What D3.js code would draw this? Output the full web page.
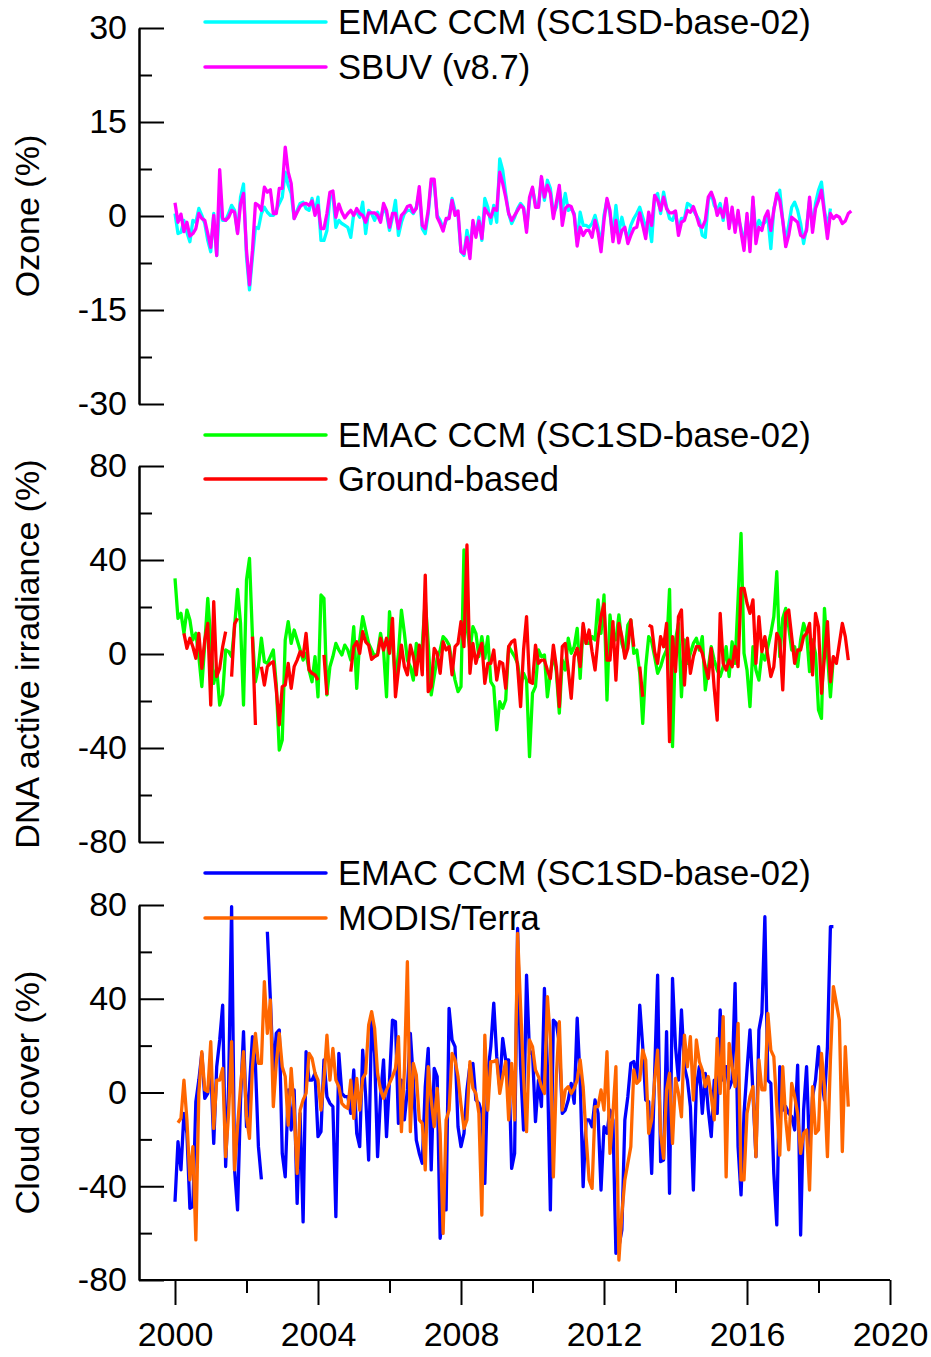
<!DOCTYPE html>
<html>
<head>
<meta charset="utf-8">
<script src="https://cdn.jsdelivr.net/npm/d3@7"></script>
<style>
  body { margin: 0; background: #fff; }
  svg text { font-family: "Liberation Sans", Arial, sans-serif; }
</style>
</head>
<body>
<svg id="chart"></svg>
<script>
// monthly anomalies, Jan 2000 onward (null = no data)
const startYear = 2000;

const ozoneEmac = [
  0.4,-2.8,-2.6,-0.7,-2.6,-4.1,-0.7,-1,1.2,0.1,-1.2,-3.9,
  -5.7,0.4,-6.3,2.5,-0.7,-0.7,0.4,1.7,0.9,-2.6,3,5.1,
  -6.5,-11.8,-6.5,-1.8,-2,0.4,1.4,0.6,0.1,0.1,0.9,2,
  3,7,4.9,3.6,-0.4,0.9,2,2.2,1.2,0.9,2.8,0.6,
  3,-3.9,-3.9,-2.3,3,3.3,-1.8,-0.7,-1.2,-1.5,-1.8,-3.4,
  0.4,0.6,-0.2,2.2,-2.8,0.9,0.4,-0.7,0.6,-0.7,1.4,0.4,
  -2.3,-0.2,2.5,-3.1,-1,0.4,0.9,0.9,0.4,1.4,3.8,-2,
  -2.8,0.4,5.4,5.2,0.1,-0.7,-2,-0.7,-0.2,2.8,0.9,0.1,
  -5.7,-6.3,-2.3,-4.9,-1.2,-2.8,-0.2,-3.9,2.8,1.4,-1.2,1.7,
  -1,9.1,7.3,3.6,0.4,
  -1.2,-0.2,1.2,2,1.4,-2,2.5,4.4,2,1.4,6,2.5,
  5.7,4.4,0.4,1.4,4.4,0.9,3.6,0.9,1.2,0.4,-4.1,0.6,
  -1.5,-1.5,-1.8,-1.2,0.1,-1.8,-4.9,0.1,2.5,0.4,-3.4,1.7,
  -2.6,-0.2,-2.3,-3.6,-1.5,-0.4,0.4,1.4,-0.2,-1.8,-1,-4.1,
  3,3.6,0.4,3.8,1.4,-0.4,-0.7,0.6,-2.3,-0.4,-0.4,2,
  1.7,0.9,0.1,-0.7,-3.1,-3.4,2.5,3.6,1.7,0.9,2,-0.7,
  2.5,-1.5,0.6,-1.8,-0.2,-2,-4.4,-0.2,-4.4,2.5,-2.8,-0.7,
  -1.5,-1,-0.2,-5.2,1.2,3,4.1,-0.7,-4.1,-1.5,1.4,2.2,
  0.9,-1.2,-4.4,-1.8,2.5,-1.8,2,4.1,5.4,0.9,-1.8,1.2
];

const ozoneSbuv = [
  2.1,-1,0.3,-2.5,-1,-3.2,-2.8,-2,0.4,-0.4,-0.7,-2.8,
  -5,0.1,-6.3,7.4,-0.4,-0.7,-0.2,0.9,0.6,-2.8,2,3.6,
  -5.5,-11,-5.5,2,1.7,0.9,4.6,3.8,4.2,0.4,0.4,4.4,
  4.4,11,7,5.2,-0.4,0.6,1.5,1.9,2,1.7,2.4,0.1,
  1.7,-2,-2,0.4,3.8,4,-0.2,1.9,0.6,-0.3,0.4,0.9,
  0.1,1.2,0.4,0.1,-1,0.5,0.5,0.5,0.1,-1,2,0.9,
  -1.8,0.4,0.4,-2,0.1,0.6,1.5,1.7,0.6,1.2,4.7,-1.5,
  -2,0.9,5.9,5.9,-0.2,-1.2,-2.4,-0.4,-0.4,2.5,0.1,0.8,
  -5.7,-6,-3.4,-6.8,-0.7,-3.4,-0.8,-3.6,1.2,0.4,-0.2,1.2,
  0.9,7,5.2,3,0.4,
  -0.7,0.1,0.9,1.7,1.2,-2.6,3,4.6,1.4,1.4,6.3,3,
  4.9,3.6,-0.4,2.2,4.9,-1.5,1.2,1.7,1.5,0.1,-4.8,-1.8,
  -3.1,-2.3,-2.3,-3.4,-0.7,-2.6,-5.7,-0.7,2.8,0.9,-4.1,-0.7,
  -4.3,-2.3,-1.8,-4.4,-3.1,-2,-1.8,0.5,-1.5,-3.6,0.6,-1.5,
  3.3,2.5,0.9,3,1.2,0.5,0.5,0.8,-3.1,-1,-0.7,0.9,
  0.6,1.5,0.1,-1.5,-1.8,-0.7,3,3.8,2.5,0.1,1.2,-0.2,
  2.8,-2,1.4,-2.6,0.9,-2.6,-5.5,0.4,-5.7,3,-4.4,-1.8,
  -2.3,-0.2,0.8,-2.3,0.9,3.6,2.5,-0.7,-4.9,-3.1,-0.2,-0.6,
  -1,-3.1,-3.4,-2.3,3,-2.6,1.2,2.5,4.1,0.4,-3.6,0.4,
  -0.4,0.1,-0.2,-1.2,-0.8,0.4,0.8
];

const dnaEmac = [
  32.2,15.2,17.3,8.8,18.7,14.5,6,8.8,-1.1,-13.9,4.5,23.7,
  6,-12.5,-6.1,-21.7,-17.4,1.7,1,-1.1,11.6,27.5,13,-21.7,
  31.5,40.7,7.4,-11.8,-5.4,6.7,-3.3,-4,-1.1,1.7,-13.2,-40.9,
  -36.6,6,13.8,4.5,10.2,6,1.7,-2.6,0.3,-6.8,-11.8,-1.1,
  -18.2,25.1,23.7,-17.4,-5.4,-1.1,4.5,1.7,-0.4,3.8,1.7,-2.6,
  11.6,-14.6,6,15.9,10.2,4.5,1.7,-1.1,0.3,8.8,1.7,-18.2,
  18,4.5,-11.1,0.3,18.7,8.8,-2.6,-5.4,-11.1,4.5,1.7,3.8,
  23,4.5,-17.4,-9.6,-1.8,1.7,7.4,6,3.8,-4,-11.1,-16,
  -13.9,44.3,11.6,1.7,11.6,8.8,-1.1,7.4,-1.8,7.4,-11.8,-13.9,
  -32.3,-20.3,-23.1,-19.6,3.1,
  1,-1.1,-4,-13.9,-8.2,-11.1,-43.7,-16.7,-13.9,1.7,-1.1,-0.4,
  -18.2,-8.2,0.3,-7.5,-25.2,-2.6,-6.8,6.7,0.3,3.1,10.9,-10.4,
  11.6,4.5,4.5,7.4,6,23,8.8,25.1,-19.6,16.6,6,6,
  16.6,4.5,0.3,12.3,14.5,0.3,1.7,-8.2,-29.5,-5.4,7.4,5.2,
  -1.1,-8.2,-5.4,-1.1,1.7,27.5,-39.4,6,13,-18.2,6,-4,
  0.3,4.5,6.7,1.7,7.4,-15.3,-6.1,3.1,-2.6,-6.8,-9.6,-5.4,
  3.1,-9.6,5.2,-4,23,51.3,0.3,-6.8,-22.4,3.1,-6.8,-11.1,
  0.3,-2.6,3.1,8.8,15.9,35,-1.1,15.2,19.4,11.6,1.7,3.1,
  -5.4,6,13,8.8,-7.5,6,0.3,-23.8,-27.4,19.4,0.3,-18.2,
  -1.1
];

const dnaGround = [
  null,null,null,8.8,2.4,6.7,3.1,-1.8,8.8,-6.1,6,13,
  -21.7,22.3,-9.6,-6.1,3.1,9.5,null,-9.6,12.8,15.2,null,null,
  null,null,7.4,-30.2,null,-5.4,-13.2,-5.4,-4,-3.3,-15.3,-30.2,
  -13.9,-13.2,-4,-14.6,-5.4,-2.6,1,-1.1,8.8,-6.8,-8.2,-8.9,
  -11.1,null,-0.4,-17.4,null,null,null,null,null,null,null,-7.5,
  3.1,5.2,0.3,9.5,5.2,3.8,-2.3,-1.1,-0.4,6.7,1.7,6.7,
  0.3,15.2,-18.2,-6.8,3.8,-5.4,-8.9,3.8,-1.1,-8.9,3.8,-8.9,
  33.6,-16,-13.9,2.4,0.3,-8.2,5.2,1.7,3.1,-8.9,3.1,4.5,
  13.8,3.1,46.4,-8.2,4.5,-4,1,4.5,-12.5,-4,-4,1.7,
  -11.1,-3.3,-4,-14.6,3.1,
  5.2,6,-5.4,-22.4,1.7,15.9,-11.8,-12.5,3.8,-4,-2.6,-2.6,
  -6.8,-10.4,3.8,-5.4,-22.4,3.1,4.5,-6.8,-18.9,-1.1,2.4,-5.4,
  13,4.5,10.2,1,-6.8,6.7,15.9,21.3,-2.6,-2.6,13.8,-11.1,
  13,7.4,-1.8,2.4,14.5,3.1,null,-5.4,-18.2,null,12.3,11.6,
  1,-4,7.4,3.1,13,-37.3,7.4,-7.5,15.9,18.7,-13.2,6.7,
  -8.2,-1.1,3.1,3.1,0.3,-5.4,-10.4,2.4,-14.6,-28.1,17.3,-4,
  -6.8,-2.6,-5.4,3.1,-5.4,27.9,27.9,21.6,17.3,23,-4,15.9,
  1,7.4,-1.1,-9.6,-5.4,8.8,6,-15.3,17.3,18.7,7.4,-4,
  1.7,1.7,7.4,8.8,13,-8.9,17.3,11.6,-16.7,-1.1,13.8,-11.8,
  -1.1,-4,4.5,13,7.4,-2.6
];

const cloudEmac = [
  -46.6,-21,-33,-8.9,-17.4,-49.4,-48.7,-3.9,5.3,16.7,-2.5,-0.4,
  11,-21.7,11,22.4,37.3,-31.6,2.5,79.3,-33,-50.1,-3.2,26,
  -14.6,2.5,23.8,11.7,-23.1,-37.1,null,68.6,40.2,8.2,25.2,26.7,
  -26,-36,1.1,-16,1.1,-47.3,-8.9,-55.2,17.4,5.3,5.3,8.2,
  -18.8,-16.7,13.9,-1.8,-4.6,-6,-53,16.7,-0.4,-1.8,-1.8,-8.9,
  9.6,-17.4,-23.1,18.1,-1.8,-28.8,30.9,16.7,-27.4,-1.8,13.9,-18.8,
  5.3,30.9,30.2,-13.2,5.3,-11.7,1.1,25.2,5.3,-20.3,-26,-30.2,
  2.5,18.8,-33,10.3,6.8,-62.2,-50.1,-50.1,35.9,22.4,19.6,-14.6,
  -23.1,-17.4,1.1,11.7,12.4,-3.2,-4.6,-8.9,-38.8,8.2,19.6,38.1,
  15.3,2.5,23.1,14,
  13.9,-32.4,-26,70,11,-16,50.1,16.7,17.4,-12.4,5.3,-6,
  44.4,11,-50.1,30.9,29.5,21,-8.9,-7.5,-3.2,3.9,-4.6,31.7,
  5.3,-40.2,-11.7,-11.7,-14.6,-3.2,-8.9,-41.6,-14.6,-17.4,-7.5,-11.7,
  -68.6,-65.8,-58.7,-11.7,-1.8,12.4,13.2,5.3,37.3,19.6,-3.2,-3.9,
  -34.5,8.2,50.1,-29.5,-28.8,26,-43,48.7,19.6,5.3,35.2,11,
  5.3,-6,-41.6,2.5,11,-8.9,8.2,-7.5,-18.8,5.3,-8.9,35.2,
  5.3,11,1.8,5.3,46.6,-23.1,-43.7,-8.9,9.6,26.7,-0.4,-27.4,
  26.7,33.8,75,5.3,3.9,-34.5,-56.5,11,-7.5,-6,-8.9,-10.3,
  -16,11.7,-60.8,-7.5,11,-26,-1.8,5.3,19.6,5.3,-3.2,19.6,
  70.8,70.8
];

const cloudModis = [
  null,-12.9,-11,5.3,-11.7,-37.3,-23.1,-62.9,-0.4,17.4,1.1,0.4,
  21.7,-15.3,5.3,5.3,10.3,-27.4,-8.9,21.7,-33,-14.6,2.5,17.4,
  -10.4,-19.6,11,25.2,12.4,12.4,47.3,25.2,39.5,-6,12.4,25.2,
  11,6.8,-13.9,10.3,-7.5,-34.5,-7.5,-3.2,-0.4,16.7,14.6,8.2,
  5.3,-7.5,5.3,24.5,5.3,18.8,5.3,2.5,-4.6,-6,-6.8,5.3,
  -11,6,-7.5,6,8.2,28.8,34.5,27.4,8.2,1.1,-2.5,1.1,
  3.9,6.8,10.3,23.8,-16.7,9.6,55.8,-16.7,12.4,7.5,-11.7,-13.2,
  -33,11,-3.2,-14.6,1.8,-17.4,-60.1,-11.7,-7.5,16.7,13.9,6.8,
  -5.3,-15.3,-11.7,13.2,1.8,-0.4,-8.9,-52.3,24.5,-7.5,13.2,13.2,
  13.9,-0.4,6.8,13.2,-11.7,
  12.4,-11.7,67.9,36.6,6.8,-16.7,22.4,19.6,9.6,6.8,2.5,-0.4,
  40.9,22.4,-36,6.8,30.2,-7.5,1.1,2.5,-0.4,1.8,5.3,13.9,
  2.5,-18.8,-37.3,-40.9,-6,-6,1.1,-7.5,17.4,-26,-8.9,11,
  -71.5,-51.9,-37.3,-30.2,-23.1,9.6,3.9,5.3,18.1,13.9,-17.4,-11.7,
  5.3,18.1,-17.4,-28.1,1.1,8.2,-21.7,6,-0.4,-10.4,24.5,11,
  23.8,-3.2,22.4,13.2,9.6,2.5,6.8,-1.8,-11.7,23.1,-0.4,32.4,
  -36,21,11,2.5,29.5,-37.3,-37.3,-8.9,-1.8,2.5,-27.4,13.9,
  1.1,1.1,33.8,18.1,15.3,-6,-26.7,11,-11.7,-24.5,3.9,-1.8,
  -8.9,-26,-17.4,-16,-41.6,2.5,-17.4,-16,16.7,2.5,-27.4,13.9,
  45.2,38.1,30.9,-25.2,19.6,-6
];

const yearTicks = [2000, 2004, 2008, 2012, 2016, 2020];
const yearMinor = [2002, 2006, 2010, 2014, 2018];

const panels = [
  {
    title: "Ozone (%)", top: 28, bottom: 404, domain: [-30, 30],
    ticks: [-30, -15, 0, 15, 30], minor: [-22.5, -7.5, 7.5, 22.5],
    legendY: [22, 67],
    series: [
      { label: "EMAC CCM (SC1SD-base-02)", color: "#00ffff", values: ozoneEmac },
      { label: "SBUV (v8.7)", color: "#ff00ff", values: ozoneSbuv }
    ]
  },
  {
    title: "DNA active irradiance (%)", top: 466, bottom: 842, domain: [-80, 80],
    ticks: [-80, -40, 0, 40, 80], minor: [-60, -20, 20, 60],
    legendY: [435, 479],
    series: [
      { label: "EMAC CCM (SC1SD-base-02)", color: "#00ff00", values: dnaEmac },
      { label: "Ground-based", color: "#ff0000", values: dnaGround }
    ]
  },
  {
    title: "Cloud cover (%)", top: 905, bottom: 1280, domain: [-80, 80],
    ticks: [-80, -40, 0, 40, 80], minor: [-60, -20, 20, 60],
    legendY: [873, 918],
    series: [
      { label: "EMAC CCM (SC1SD-base-02)", color: "#0000ff", values: cloudEmac },
      { label: "MODIS/Terra", color: "#ff6600", values: cloudModis }
    ]
  }
];

const width = 931, height = 1357;
const axisX = 139;
const fontSize = "34px";

const svg = d3.select("#chart")
    .attr("width", width)
    .attr("height", height);

const x = d3.scaleLinear().domain([2000, 2020]).range([175, 890]);

function styleAxis(g) {
    g.attr("font-size", fontSize)
     .attr("font-family", '"Liberation Sans", Arial, sans-serif');
    g.selectAll("line").attr("stroke", "#000").attr("stroke-width", 2);
    g.selectAll("path").attr("stroke", "#000").attr("stroke-width", 2);
    g.selectAll("text").attr("fill", "#000");
}

panels.forEach(p => {
    const y = d3.scaleLinear().domain(p.domain).range([p.bottom, p.top]);
    const g = svg.append("g");

    // series (model first, observation on top)
    p.series.forEach(s => {
        const line = d3.line()
            .defined(d => d != null)
            .x((d, i) => x(startYear + i / 12))
            .y(d => y(d));
        g.append("path")
            .datum(s.values)
            .attr("d", line)
            .attr("fill", "none")
            .attr("stroke", s.color)
            .attr("stroke-width", 3.3)
            .attr("stroke-linejoin", "round");
    });

    // y axis, ticks pointing inward
    g.append("g")
        .attr("transform", `translate(${axisX},0)`)
        .call(d3.axisLeft(y).tickValues(p.minor).tickSize(-13).tickSizeOuter(0).tickFormat(""))
        .call(styleAxis);
    g.append("g")
        .attr("transform", `translate(${axisX},0)`)
        .call(d3.axisLeft(y).tickValues(p.ticks).tickSize(-25).tickSizeOuter(0)
            .tickPadding(12).tickFormat(d => String(d)))
        .call(styleAxis);

    // axis title
    svg.append("text")
        .attr("transform", `translate(27,${(p.top + p.bottom) / 2}) rotate(-90)`)
        .attr("text-anchor", "middle")
        .attr("dy", "0.35em")
        .style("font-size", fontSize)
        .text(p.title);

    // legend
    p.series.forEach((s, i) => {
        const ly = p.legendY[i];
        svg.append("line")
            .attr("x1", 205).attr("x2", 326)
            .attr("y1", ly).attr("y2", ly)
            .attr("stroke", s.color)
            .attr("stroke-width", 3.5)
            .attr("stroke-linecap", "round");
        svg.append("text")
            .attr("x", 338)
            .attr("y", ly)
            .attr("dy", "0.36em")
            .style("font-size", "34.6px")
            .text(s.label);
    });
});

// x axis
const xg = svg.append("g").attr("transform", "translate(0,1280)");
xg.append("g")
    .call(d3.axisBottom(x).tickValues(yearMinor).tickSize(13).tickFormat(""))
    .call(styleAxis);
xg.append("g")
    .call(d3.axisBottom(x).tickValues(yearTicks).tickSize(25).tickPadding(17).tickFormat(d3.format("d")))
    .call(styleAxis);
xg.selectAll(".domain").remove();
xg.append("line")
    .attr("x1", axisX).attr("x2", 890)
    .attr("y1", 0).attr("y2", 0)
    .attr("stroke", "#000")
    .attr("stroke-width", 2);
</script>
</body>
</html>
